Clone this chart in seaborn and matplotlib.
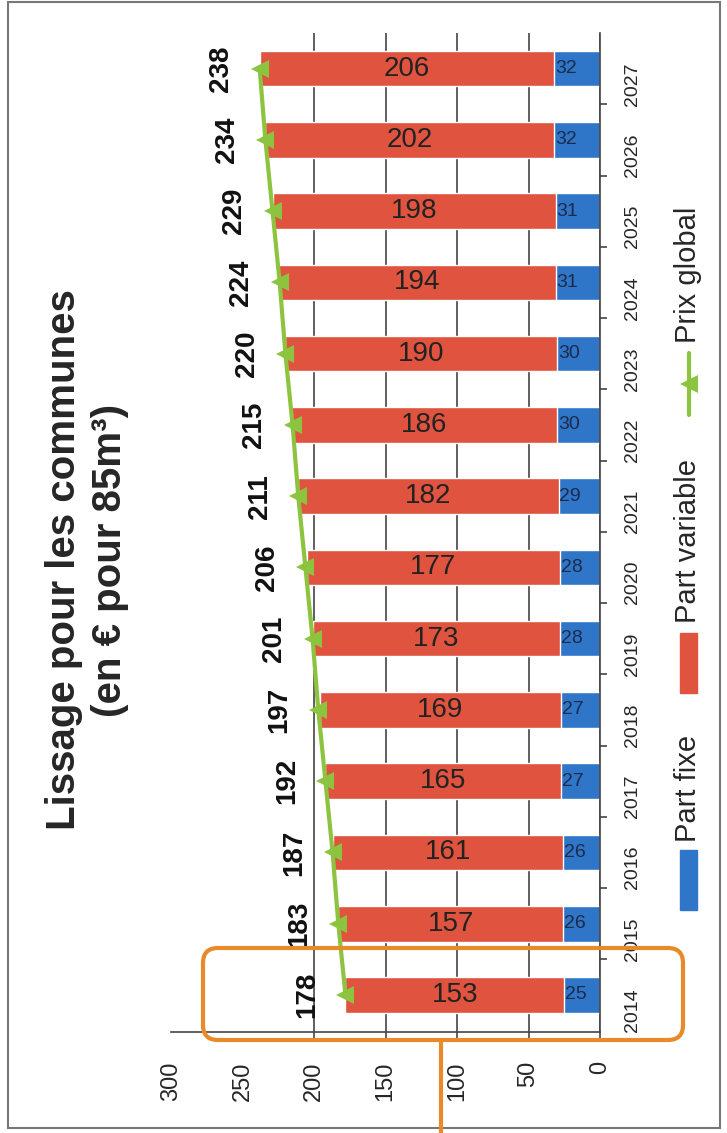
import pandas as pd
import seaborn as sns
import matplotlib.pyplot as plt
from matplotlib import font_manager
from matplotlib.patches import FancyBboxPatch, Rectangle
from matplotlib.lines import Line2D

# values
years = [2014, 2015, 2016, 2017, 2018, 2019, 2020, 2021, 2022, 2023, 2024, 2025, 2026, 2027]
part_fixe = [25, 26, 26, 27, 27, 28, 28, 29, 30, 30, 31, 31, 32, 32]
part_variable = [153, 157, 161, 165, 169, 173, 177, 182, 186, 190, 194, 198, 202, 206]
prix_global = [178, 183, 187, 192, 197, 201, 206, 211, 215, 220, 224, 229, 234, 238]
value_ticks = [0, 50, 100, 150, 200, 250, 300]
grid_ticks = [0, 50, 100, 150, 200]

sns.set_theme(style='white')
plt.rcParams['font.family'] = ['Liberation Sans', 'DejaVu Sans']
names = {f.name for f in font_manager.fontManager.ttflist}
narrow = 'Liberation Sans Narrow' if 'Liberation Sans Narrow' in names else 'Liberation Sans'

red = '#E0533F'
blue = '#2F76C9'
green = '#8CC43F'
orange = '#E98A2A'
dark = '#444444'

df = pd.DataFrame({'annee': years, 'fixe': part_fixe,
                   'variable': part_variable, 'global': prix_global})
df['cumul'] = df['fixe'] + df['variable']

fig = plt.figure(figsize=(7.27, 11.33), dpi=100)
ax = fig.add_axes([171 / 727, 1 - 1032 / 1133, (600 - 171) / 727, (1032 - 33) / 1133])

sns.barplot(data=df, x='cumul', y='annee', orient='y', native_scale=True, color=red,
            width=0.5, saturation=1, errorbar=None, ax=ax)
sns.barplot(data=df, x='fixe', y='annee', orient='y', native_scale=True, color=blue,
            width=0.5, saturation=1, errorbar=None, ax=ax)
sns.lineplot(data=df, x='global', y='annee', orient='y', sort=False, color=green,
             lw=3, marker='<', markersize=13, markeredgewidth=0, errorbar=None,
             legend=False, ax=ax)

for _, r in df.iterrows():
    ax.text(r['fixe'] + r['variable'] / 2, r['annee'], str(r['variable']),
            ha='center', va='center', fontsize=20, color='#222222')
    ax.text(r['fixe'] - 0.5, r['annee'], str(r['fixe']), ha='left', va='center',
            fontsize=14, color='#1c2b4a', family=narrow)
    ax.text(r['global'] + 27, r['annee'], str(r['global']), rotation=90,
            ha='center', va='center', fontsize=20, fontweight='bold', color='#111111')

ax.set_xlim(300, 0)
ax.set_ylim(2013.48, 2027.5)
ax.set_xlabel('')
ax.set_ylabel('')

ax.xaxis.remove_overlapping_locs = False
ax.set_xticks(value_ticks)
ax.set_xticklabels([str(v) for v in value_ticks])
ax.set_xticks(grid_ticks, minor=True)
ax.tick_params(axis='x', which='major', length=0, labelsize=17, labelrotation=90, pad=21)
ax.tick_params(axis='x', which='minor', length=6, width=1.2, color=dark, direction='out',
               bottom=True)
ax.grid(True, axis='x', which='minor', color=dark, lw=1.2)
ax.set_axisbelow(True)

ax.yaxis.tick_right()
ax.set_yticks(years)
ax.set_yticklabels([str(y) for y in years], rotation=90, fontsize=14, family=narrow)
ax.set_yticks([y + 0.5 for y in years[:-1]], minor=True)
ax.tick_params(axis='y', which='major', length=0, pad=17)
ax.tick_params(axis='y', which='minor', length=5, width=1.2, color=dark, direction='out',
               right=True, left=False)

ax.spines['left'].set_visible(False)
ax.spines['top'].set_visible(False)
for s in ['right', 'bottom']:
    ax.spines[s].set_color(dark)
    ax.spines[s].set_linewidth(1.2)

# title, rotated like the scan
fig.text(87 / 727, 1 - 560 / 1133, 'Lissage pour les communes\n(en € pour 85m³)',
         rotation=90, ha='center', va='center', fontsize=29, fontweight='bold',
         multialignment='center', linespacing=1.28)

# legend drawn by hand (rotated)
inch = fig.dpi_scale_trans
fig.add_artist(Rectangle((6.80, (1133 - 910) / 100), 0.17, 0.60, transform=inch, color=blue))
fig.text(688 / 727, 1 - 842 / 1133, 'Part fixe', rotation=90, ha='center', va='bottom',
         fontsize=21)
fig.add_artist(Rectangle((6.80, (1133 - 693) / 100), 0.17, 0.60, transform=inch, color=red))
fig.text(688 / 727, 1 - 623 / 1133, 'Part variable', rotation=90, ha='center', va='bottom',
         fontsize=21)
fig.add_artist(Line2D([6.885, 6.885], [(1133 - 415) / 100, (1133 - 353) / 100],
                      transform=inch, color=green, lw=3))
fig.add_artist(Line2D([6.885], [(1133 - 384) / 100], transform=inch, color=green,
                      marker='<', markersize=13, markeredgewidth=0))
fig.text(688 / 727, 1 - 343 / 1133, 'Prix global', rotation=90, ha='center', va='bottom',
         fontsize=21)

# orange highlight around 2014
fig.add_artist(FancyBboxPatch((2.03, 0.93), 4.80, 0.92,
                              boxstyle='round,pad=0,rounding_size=0.15',
                              transform=inch, fill=False, edgecolor=orange, lw=3))
fig.add_artist(Line2D([4.41, 4.41], [0, 0.93], transform=inch, color=orange, lw=3))

# scan frame
fig.add_artist(Rectangle((0.08, 0.05), 7.12, 11.26, transform=inch, fill=False,
                         edgecolor='#777777', lw=1.5))

fig.savefig('out.png', dpi=100)
